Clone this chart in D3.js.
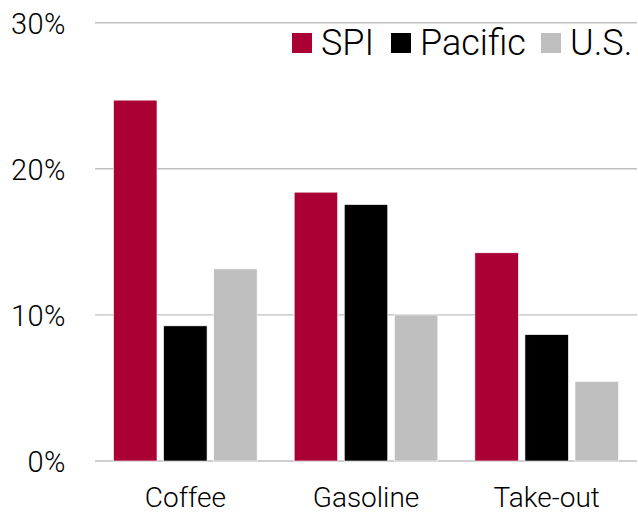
<!DOCTYPE html>
<html>
<head>
<meta charset="utf-8">
<script src="https://cdn.jsdelivr.net/npm/d3@7"></script>
<style>
  body { margin: 0; background: #fff; }
  svg text { font-family: "Roboto", "Liberation Sans", sans-serif; font-weight: 300; fill: #000; }
</style>
</head>
<body>
<div id="chart"></div>
<script>
/* Chart data */
const categories = ["Coffee", "Gasoline", "Take-out"];
const series = ["SPI", "Pacific", "U.S."];
const spiValues = [24.7, 18.4, 14.25];
const pacificValues = [9.25, 17.55, 8.65];
const usValues = [13.15, 10.0, 5.45];
const yTicks = [0, 10, 20, 30];

const colors = { "SPI": "#AB0033", "Pacific": "#000000", "U.S.": "#BFBFBF" };

const W = 638, H = 515;
const plotLeft = 95, plotRight = 637, plotTop = 22.7, plotBottom = 461;

const svg = d3.select("#chart").append("svg").attr("width", W).attr("height", H);

const rows = categories.map((c, i) => ({
    category: c,
    values: [spiValues[i], pacificValues[i], usValues[i]]
}));

/* Scales */
const x0 = d3.scaleBand().domain(categories).range([plotLeft, plotRight]).padding(0);
const x1 = d3.scaleBand().domain(series).range([0, x0.bandwidth()])
    .paddingInner(0.132).paddingOuter(0.37);
const y = d3.scaleLinear().domain([0, 30]).range([plotBottom, plotTop]);

/* Grid lines */
svg.append("g").selectAll("line")
    .data(yTicks)
    .enter()
    .append("line")
    .attr("x1", plotLeft).attr("x2", plotRight)
    .attr("y1", d => y(d)).attr("y2", d => y(d))
    .attr("stroke", "#BFBFBF")
    .attr("stroke-width", 1.4);

/* Y axis labels */
const yAxis = d3.axisLeft(y).tickValues(yTicks).tickFormat(d => d + "%").tickSize(0).tickPadding(0);
const yG = svg.append("g").attr("transform", "translate(66,0)").call(yAxis);
yG.select(".domain").remove();
yG.selectAll("text").style("font-size", "29px").style("letter-spacing", "0.5px").attr("dy", "0.36em");

/* X axis labels */
const xAxis = d3.axisBottom(x0).tickSize(0).tickPadding(0);
const xG = svg.append("g").attr("transform", "translate(0,487)").call(xAxis);
xG.select(".domain").remove();
xG.selectAll("text").style("font-size", "28px").attr("dy", "0.72em");

/* Bars */
const groups = svg.append("g").selectAll("g")
    .data(rows)
    .enter()
    .append("g")
    .attr("transform", d => "translate(" + x0(d.category) + ",0)");

groups.selectAll("rect")
    .data(d => d.values.map((v, i) => ({ key: series[i], value: v })))
    .enter()
    .append("rect")
    .attr("x", d => x1(d.key))
    .attr("width", x1.bandwidth())
    .attr("y", d => y(d.value))
    .attr("height", d => y(0) - y(d.value))
    .attr("fill", d => colors[d.key])
    .attr("stroke", "#fff")
    .attr("stroke-width", 0.6);

/* Legend */
const legendX = [292, 391, 541];
const legend = svg.append("g").selectAll("g")
    .data(series)
    .enter()
    .append("g")
    .attr("transform", (d, i) => "translate(" + legendX[i] + ",33)");

legend.append("rect")
    .attr("width", 20).attr("height", 20)
    .attr("fill", d => colors[d]);

legend.append("text")
    .attr("x", 29)
    .attr("y", 22)
    .style("font-size", "36px")
    .text(d => d);
</script>
</body>
</html>
